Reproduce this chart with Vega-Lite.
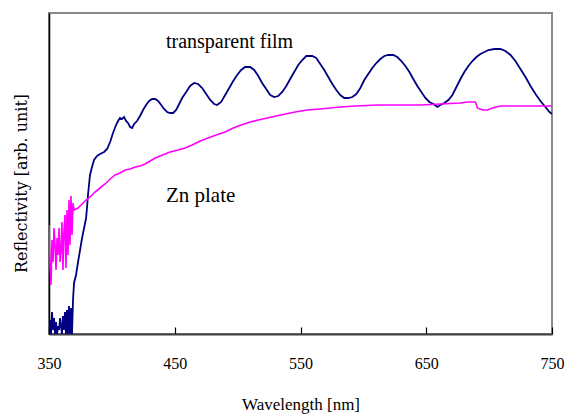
{
  "$schema": "https://vega.github.io/schema/vega-lite/v6.json",
  "autosize": {"type": "none"},
  "width": 503,
  "height": 321,
  "padding": {"left": 49, "top": 13, "right": 15, "bottom": 81},
  "background": "white",
  "config": {
    "view": {"stroke": "#8a8a8a", "strokeWidth": 2},
    "font": "Liberation Serif"
  },
  "datasets": {
    "film": [
      {"w":350.8,"r":14},{"w":351.6,"r":0},{"w":352.4,"r":22},{"w":353.2,"r":4},{"w":354.0,"r":16},{"w":354.8,"r":0},{"w":355.6,"r":12},{"w":356.4,"r":0},{"w":357.2,"r":8},{"w":358.0,"r":4},{"w":358.8,"r":16},{"w":360.3,"r":0},{"w":361.1,"r":18},{"w":361.9,"r":4},{"w":362.7,"r":22},{"w":363.5,"r":0},{"w":364.3,"r":24},{"w":365.1,"r":0},{"w":365.9,"r":28},{"w":366.7,"r":0},{"w":367.5,"r":26},{"w":368.3,"r":0},{"w":369.1,"r":34},{"w":369.9,"r":51},{"w":371.5,"r":59},{"w":373.1,"r":72},{"w":374.7,"r":84},{"w":376.3,"r":96},{"w":377.9,"r":106},{"w":379.5,"r":116},{"w":380.2,"r":126},{"w":381.0,"r":139},{"w":381.8,"r":149},{"w":382.6,"r":159},{"w":384.2,"r":167},{"w":385.8,"r":174},{"w":388.2,"r":178},{"w":390.6,"r":180},{"w":393.8,"r":182},{"w":396.2,"r":185},{"w":398.6,"r":192},{"w":400.9,"r":201},{"w":403.3,"r":209},{"w":404.9,"r":213},{"w":406.5,"r":216},{"w":408.1,"r":215},{"w":409.7,"r":217},{"w":411.3,"r":213},{"w":412.9,"r":211},{"w":414.5,"r":207},{"w":416.1,"r":206},{"w":417.7,"r":210},{"w":420.0,"r":213},{"w":422.4,"r":218},{"w":424.8,"r":224},{"w":427.2,"r":229},{"w":429.6,"r":233},{"w":432.0,"r":235},{"w":434.4,"r":235},{"w":436.8,"r":233},{"w":439.2,"r":229},{"w":441.5,"r":225},{"w":443.9,"r":222},{"w":446.3,"r":221},{"w":448.7,"r":221},{"w":451.1,"r":224},{"w":453.5,"r":230},{"w":455.9,"r":236},{"w":459.1,"r":242},{"w":462.2,"r":248},{"w":465.4,"r":251},{"w":468.6,"r":250},{"w":471.8,"r":246},{"w":475.0,"r":240},{"w":478.2,"r":234},{"w":481.3,"r":230},{"w":483.7,"r":229},{"w":486.9,"r":232},{"w":490.1,"r":239},{"w":493.3,"r":246},{"w":496.5,"r":253},{"w":499.6,"r":259},{"w":502.8,"r":264},{"w":506.0,"r":267},{"w":510.0,"r":267},{"w":513.2,"r":264},{"w":516.4,"r":258},{"w":519.5,"r":251},{"w":522.7,"r":245},{"w":525.9,"r":239},{"w":529.1,"r":237},{"w":532.3,"r":238},{"w":535.5,"r":242},{"w":538.7,"r":248},{"w":541.8,"r":255},{"w":545.0,"r":262},{"w":548.2,"r":269},{"w":551.4,"r":274},{"w":554.6,"r":278},{"w":559.3,"r":278},{"w":562.5,"r":276},{"w":565.7,"r":270},{"w":568.9,"r":264},{"w":572.1,"r":257},{"w":575.3,"r":250},{"w":578.5,"r":244},{"w":581.6,"r":239},{"w":584.8,"r":236},{"w":588.0,"r":236},{"w":591.2,"r":237},{"w":594.4,"r":240},{"w":597.6,"r":246},{"w":600.7,"r":254},{"w":603.9,"r":260},{"w":607.1,"r":266},{"w":610.3,"r":271},{"w":613.5,"r":275},{"w":616.7,"r":278},{"w":619.8,"r":279},{"w":623.8,"r":279},{"w":627.0,"r":277},{"w":630.2,"r":273},{"w":633.4,"r":268},{"w":636.6,"r":262},{"w":639.7,"r":255},{"w":642.9,"r":248},{"w":646.1,"r":242},{"w":649.3,"r":236},{"w":652.5,"r":232},{"w":655.7,"r":230},{"w":658.8,"r":227},{"w":661.2,"r":229},{"w":664.4,"r":231},{"w":667.6,"r":234},{"w":670.8,"r":239},{"w":674.0,"r":247},{"w":677.2,"r":255},{"w":680.3,"r":262},{"w":683.5,"r":268},{"w":686.7,"r":273},{"w":689.9,"r":277},{"w":693.1,"r":280},{"w":696.3,"r":282},{"w":699.4,"r":284},{"w":704.2,"r":285},{"w":709.0,"r":285},{"w":713.0,"r":283},{"w":717.0,"r":279},{"w":720.9,"r":273},{"w":724.9,"r":265},{"w":728.9,"r":257},{"w":732.9,"r":248},{"w":736.9,"r":240},{"w":740.8,"r":233},{"w":744.8,"r":227},{"w":748.0,"r":222},{"w":750.0,"r":220}
    ],
    "zn": [
      {"w":350.0,"r":109},{"w":350.8,"r":69},{"w":351.6,"r":49},{"w":352.4,"r":94},{"w":353.2,"r":72},{"w":354.0,"r":106},{"w":354.8,"r":89},{"w":355.6,"r":64},{"w":356.4,"r":96},{"w":357.2,"r":79},{"w":358.0,"r":106},{"w":358.8,"r":72},{"w":359.6,"r":86},{"w":360.3,"r":112},{"w":361.1,"r":64},{"w":361.9,"r":102},{"w":362.7,"r":119},{"w":363.5,"r":66},{"w":364.3,"r":124},{"w":365.1,"r":79},{"w":365.9,"r":134},{"w":366.7,"r":89},{"w":367.5,"r":138},{"w":368.3,"r":99},{"w":369.1,"r":131},{"w":369.9,"r":124},{"w":373.1,"r":126},{"w":376.3,"r":130},{"w":379.5,"r":134},{"w":382.6,"r":137},{"w":386.6,"r":142},{"w":390.6,"r":146},{"w":394.6,"r":150},{"w":398.6,"r":155},{"w":402.5,"r":159},{"w":406.5,"r":161},{"w":410.5,"r":164},{"w":414.5,"r":165},{"w":418.5,"r":167},{"w":422.4,"r":168},{"w":426.4,"r":170},{"w":430.4,"r":173},{"w":434.4,"r":176},{"w":438.4,"r":178},{"w":442.3,"r":180},{"w":446.3,"r":182},{"w":452.7,"r":184},{"w":458.3,"r":186},{"w":463.8,"r":189},{"w":470.2,"r":193},{"w":476.6,"r":196},{"w":482.9,"r":199},{"w":490.1,"r":202},{"w":496.5,"r":206},{"w":502.8,"r":209},{"w":510.0,"r":212},{"w":516.4,"r":214},{"w":523.5,"r":216},{"w":530.7,"r":218},{"w":537.9,"r":220},{"w":545.8,"r":222},{"w":555.4,"r":224},{"w":565.7,"r":225},{"w":573.7,"r":226},{"w":581.6,"r":227},{"w":593.6,"r":228},{"w":611.1,"r":229},{"w":629.4,"r":229},{"w":645.3,"r":229},{"w":661.2,"r":230},{"w":677.2,"r":231},{"w":682.7,"r":232},{"w":689.1,"r":232},{"w":690.7,"r":226},{"w":694.7,"r":224},{"w":698.6,"r":224},{"w":702.6,"r":226},{"w":709.0,"r":228},{"w":724.9,"r":228},{"w":740.8,"r":228},{"w":750.0,"r":228}
    ],
    "labels": [
      {"w":443,"r":286,"t":"transparent film","s":20},
      {"w":443,"r":132,"t":"Zn plate","s":21}
    ]
  },
  "encoding": {
    "x": {"field": "w", "type": "quantitative", "scale": {"domain": [350, 750], "nice": false, "zero": false},
      "axis": {"values": [350, 450, 550, 650, 750], "title": "Wavelength [nm]", "grid": false,
        "tickSize": -7, "tickColor": "#000", "tickWidth": 1.2, "labelPadding": 28, "labelFlush": false,
        "labelFont": "Liberation Serif", "labelFontSize": 16, "labelColor": "#000",
        "titleFont": "Liberation Serif", "titleFontSize": 17, "titleFontWeight": "normal", "titleColor": "#000", "titlePadding": 25,
        "domainColor": "#404040", "domainWidth": 2}},
    "y": {"field": "r", "type": "quantitative", "scale": {"domain": [0, 321], "nice": false},
      "axis": {"title": "Reflectivity [arb. unit]", "labels": false, "ticks": false, "grid": false,
        "titleFont": "DejaVu Serif", "titleFontSize": 16, "titleFontWeight": "normal", "titleColor": "#000", "titlePadding": 20, "titleY": 170,
        "domainColor": "#000", "domainWidth": 1.5}}
  },
  "layer": [
    {"data": {"name": "film"}, "mark": {"type": "line", "color": "#000080", "strokeWidth": 1.8, "clip": true}},
    {"data": {"name": "zn"}, "mark": {"type": "line", "color": "#ff00ff", "strokeWidth": 1.6, "clip": true}},
    {"data": {"name": "labels"}, "mark": {"type": "text", "align": "left", "baseline": "alphabetic", "font": "Liberation Serif", "color": "#000"},
      "encoding": {"text": {"field": "t"}, "size": {"field": "s", "type": "quantitative", "scale": null}}}
  ]
}
